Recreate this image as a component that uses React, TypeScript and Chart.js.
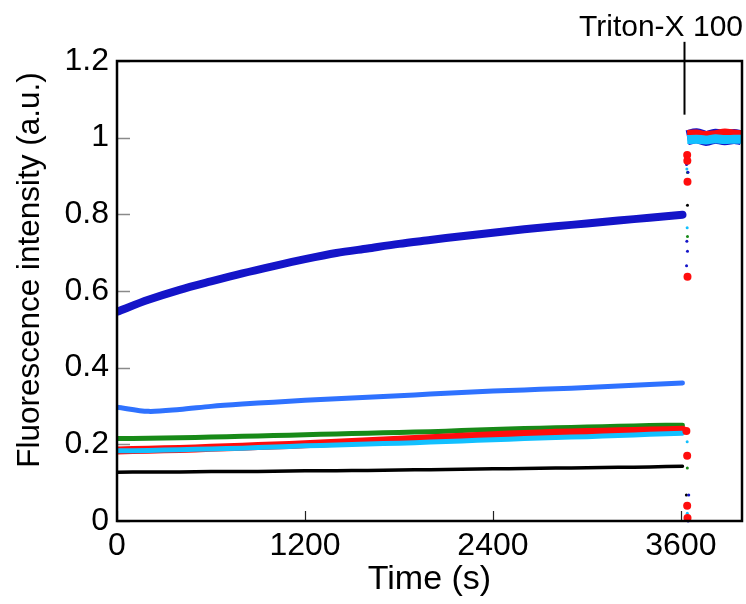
import { useEffect, useRef } from "react";
import { Chart, registerables } from "chart.js";

Chart.register(...registerables);

// ---- data ----
const trendTimes = [0, 200, 400, 600, 800, 1000, 1200, 1400, 1600, 1800, 2000, 2200, 2400, 2600, 2800, 3000, 3200, 3400, 3610];
const darkBlueTrend = [0.546, 0.577, 0.603, 0.625, 0.646, 0.665, 0.683, 0.699, 0.711, 0.723, 0.733, 0.743, 0.752, 0.761, 0.769, 0.776, 0.784, 0.791, 0.799];
const blueTrend = [0.297, 0.286, 0.291, 0.299, 0.305, 0.31, 0.315, 0.319, 0.323, 0.327, 0.331, 0.335, 0.339, 0.342, 0.345, 0.348, 0.352, 0.356, 0.36];
const greenTrend = [0.215, 0.216, 0.217, 0.219, 0.221, 0.223, 0.225, 0.227, 0.229, 0.231, 0.233, 0.236, 0.239, 0.241, 0.243, 0.245, 0.247, 0.249, 0.25];
const redTrend = [0.184, 0.186, 0.188, 0.191, 0.194, 0.197, 0.2, 0.204, 0.208, 0.212, 0.216, 0.22, 0.224, 0.227, 0.23, 0.232, 0.234, 0.236, 0.238];
const cyanTrend = [0.183, 0.184, 0.186, 0.188, 0.19, 0.193, 0.196, 0.198, 0.201, 0.203, 0.206, 0.209, 0.212, 0.215, 0.218, 0.22, 0.223, 0.226, 0.229];
const blackTrend = [0.127, 0.128, 0.128, 0.129, 0.129, 0.13, 0.131, 0.131, 0.132, 0.133, 0.134, 0.135, 0.136, 0.137, 0.138, 0.139, 0.14, 0.141, 0.143];

const plateauTimes = [3640, 3700, 3760, 3820, 3880, 3940, 3985];
const darkBluePlateau = [1.0, 1.005, 0.998, 1.004, 1.0, 1.003, 1.0];
const redPlateau = [1.011, 1.012, 1.008, 1.01, 1.015, 1.012, 1.01];
const cyanPlateau = [0.995, 0.996, 0.994, 0.997, 0.995, 0.996, 0.996];

// scattered points during the Triton-X 100 jump
const redJumpTimes = [3635, 3640, 3641, 3642, 3642, 3640, 3640, 3642];
const redJumpValues = [0.235, 0.955, 0.94, 0.885, 0.637, 0.17, 0.04, 0.008];
const darkBlueJumpTimes = [3636, 3645, 3638, 3642, 3636, 3650, 3646];
const darkBlueJumpValues = [0.93, 0.91, 0.73, 0.704, 0.666, 0.068, 0.0];
const cyanJumpTimes = [3638, 3640, 3640, 3641];
const cyanJumpValues = [0.918, 0.765, 0.207, 0.02];
const greenJumpTimes = [3642, 3642, 3641];
const greenJumpValues = [0.909, 0.742, 0.138];
const blackJumpTimes = [3642, 3642, 3635];
const blackJumpValues = [0.934, 0.824, 0.068];

const xTicks = [0, 1200, 2400, 3600];
const yTicks = [0, 0.2, 0.4, 0.6, 0.8, 1, 1.2];
const xTitle = "Time (s)";
const yTitle = "Fluorescence intensity (a.u.)";
const annotationLabel = "Triton-X 100";
const tritonTime = 3620;

const FONT = '"Liberation Sans", Arial, sans-serif';

const C_DARKBLUE = "#1414c8";
const C_BLUE = "#2f72ff";
const C_GREEN = "#188a18";
const C_RED = "#ff0d0d";
const C_CYAN = "#12c0ff";
const C_BLACK = "#000000";

function pts(xs: number[], ys: number[]) {
  return xs.map((x, i) => ({ x, y: ys[i] }));
}

function lineDs(data: { x: number; y: number }[], color: string, width: number, order: number, cap: "round" | "butt" = "round") {
  return {
    data,
    showLine: true,
    borderColor: color,
    backgroundColor: color,
    borderWidth: width,
    pointRadius: 0,
    tension: 0.3,
    borderCapStyle: cap,
    order,
  };
}

function dotDs(data: { x: number; y: number }[], color: string, r: number, order: number) {
  return {
    data,
    showLine: false,
    borderWidth: 0,
    backgroundColor: color,
    borderColor: color,
    pointRadius: r,
    clip: false as const,
    order,
  };
}

const decor = {
  id: "decor",
  afterDatasetsDraw(chart: any) {
    const { ctx, chartArea: a, scales } = chart;
    const x = scales.x;
    const y = scales.y;
    ctx.save();
    // inward y ticks
    ctx.strokeStyle = "#8a8a8a";
    ctx.lineWidth = 1.5;
    yTicks.forEach((v) => {
      const py = Math.round(y.getPixelForValue(v)) + 0.5;
      ctx.beginPath();
      ctx.moveTo(a.left, py);
      ctx.lineTo(a.left + 13, py);
      ctx.stroke();
    });
    // inward x ticks
    ctx.strokeStyle = "#222";
    ctx.lineWidth = 1.2;
    xTicks.forEach((v) => {
      const px = Math.round(x.getPixelForValue(v)) + 0.5;
      ctx.beginPath();
      ctx.moveTo(px, a.bottom);
      ctx.lineTo(px, a.bottom - 10);
      ctx.stroke();
    });
    // frame
    ctx.strokeStyle = "#000";
    ctx.lineWidth = 2.5;
    ctx.strokeRect(a.left, a.top, a.right - a.left, a.bottom - a.top);
    // annotation
    const tx = Math.round(x.getPixelForValue(tritonTime)) + 0.5;
    ctx.lineWidth = 2;
    ctx.beginPath();
    ctx.moveTo(tx, y.getPixelForValue(1.25));
    ctx.lineTo(tx, y.getPixelForValue(1.06));
    ctx.stroke();
    ctx.font = `30px ${FONT}`;
    ctx.fillStyle = "#000";
    ctx.textAlign = "right";
    ctx.textBaseline = "middle";
    ctx.fillText(annotationLabel, chart.width - 3, 28);
    // y-axis title (placed slightly above the axis centre, as in the reference)
    ctx.save();
    ctx.translate(30, 270);
    ctx.rotate(-Math.PI / 2);
    ctx.font = `31.5px ${FONT}`;
    ctx.textAlign = "center";
    ctx.textBaseline = "middle";
    ctx.fillText(yTitle, 0, 0);
    ctx.restore();
    ctx.restore();
  },
};

export default function App() {
  const ref = useRef<HTMLCanvasElement>(null);

  useEffect(() => {
    if (!ref.current) return;
    const chart = new Chart(ref.current, {
      type: "scatter",
      data: {
        datasets: [
          lineDs(pts(trendTimes, darkBlueTrend), C_DARKBLUE, 8, 10),
          lineDs(pts(trendTimes, blueTrend), C_BLUE, 5, 9),
          lineDs(pts(trendTimes, blackTrend), C_BLACK, 3.5, 8),
          lineDs(pts(trendTimes, greenTrend), C_GREEN, 5, 7),
          lineDs(pts(trendTimes, redTrend), C_RED, 8, 6),
          lineDs(pts(trendTimes, cyanTrend), C_CYAN, 5, 5),
          lineDs(pts(plateauTimes, darkBluePlateau), C_DARKBLUE, 15, 4, "butt"),
          lineDs(pts(plateauTimes, redPlateau), C_RED, 7, 3, "butt"),
          lineDs(pts(plateauTimes, cyanPlateau), C_CYAN, 9, 2, "butt"),
          dotDs(pts(darkBlueJumpTimes, darkBlueJumpValues), C_DARKBLUE, 1.5, 1),
          dotDs(pts(greenJumpTimes, greenJumpValues), C_GREEN, 1.5, 1),
          dotDs(pts(blackJumpTimes, blackJumpValues), C_BLACK, 1.5, 1),
          dotDs(pts(cyanJumpTimes, cyanJumpValues), C_CYAN, 1.5, 1),
          dotDs(pts(redJumpTimes, redJumpValues), C_RED, 4, 0),
        ] as any,
      },
      options: {
        animation: false,
        responsive: false,
        devicePixelRatio: 1,
        layout: { padding: { top: 61, right: 3, left: 0, bottom: 0 } },
        plugins: { legend: { display: false }, tooltip: { enabled: false } },
        scales: {
          x: {
            type: "linear",
            min: 0,
            max: 3990,
            grid: { display: false, drawTicks: false },
            border: { display: false },
            afterBuildTicks: (s: any) => {
              s.ticks = xTicks.map((v) => ({ value: v }));
            },
            afterFit: (s: any) => {
              s.height = 83;
            },
            ticks: {
              font: { family: FONT, size: 32 },
              color: "#000",
              padding: 6,
              maxRotation: 0,
              autoSkip: false,
              callback: (v: any) => String(v),
            },
            title: {
              display: true,
              text: xTitle,
              font: { family: FONT, size: 34 },
              color: "#000",
              padding: { top: 0, bottom: 4 },
            },
          },
          y: {
            type: "linear",
            min: 0,
            max: 1.2,
            grid: { display: false, drawTicks: false },
            border: { display: false },
            afterBuildTicks: (s: any) => {
              s.ticks = yTicks.map((v) => ({ value: v }));
            },
            afterFit: (s: any) => {
              s.width = 117;
            },
            ticks: {
              font: { family: FONT, size: 32 },
              color: "#000",
              padding: 8,
              autoSkip: false,
              callback: (v: any) => String(v),
            },
            title: { display: false, text: yTitle },
          },
        },
      },
      plugins: [decor],
    });
    return () => chart.destroy();
  }, []);

  return (
    <div style={{ position: "absolute", left: 0, top: 0, width: 746, height: 604, background: "#fff" }}>
      <canvas ref={ref} width={746} height={604} style={{ display: "block", width: 746, height: 604 }} />
    </div>
  );
}
